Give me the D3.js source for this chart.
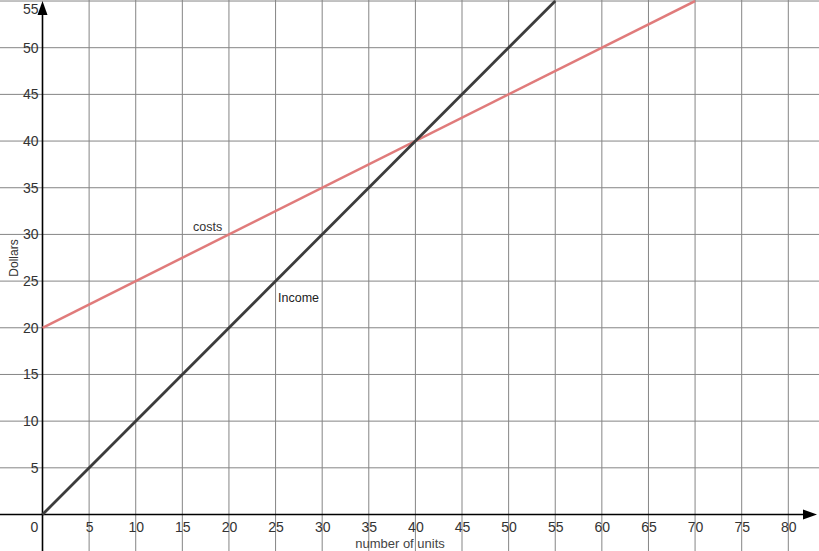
<!DOCTYPE html>
<html>
<head>
<meta charset="utf-8">
<script src="https://cdn.jsdelivr.net/npm/d3@7"></script>
<style>
  body { margin: 0; background: #fff; }
  svg { display: block; font-family: "Liberation Sans", Arial, sans-serif; }
</style>
</head>
<body>
<svg id="chart"></svg>
<script>
// data
var xTicks = [0, 5, 10, 15, 20, 25, 30, 35, 40, 45, 50, 55, 60, 65, 70, 75, 80]
var yTicks = [5, 10, 15, 20, 25, 30, 35, 40, 45, 50, 55]
var costs = [{x: 0, y: 20}, {x: 70, y: 55}]
var income = [{x: 0, y: 0}, {x: 55, y: 55}]

var width = 819, height = 551

var x = d3.scaleLinear()
    .domain([0, 80])
    .range([42.5, 788.3])

var y = d3.scaleLinear()
    .domain([0, 50])
    .range([514.5, 47.7])

var svg = d3.select("#chart")
    .attr("width", width)
    .attr("height", height)

svg.append("defs").append("clipPath").attr("id", "clip")
    .append("rect").attr("x", 0).attr("y", 0).attr("width", width).attr("height", height)

// grid
svg.append("g").selectAll("line")
    .data(xTicks.filter(function(d){ return d > 0 }))
    .enter().append("line")
    .attr("x1", function(d){ return x(d) }).attr("x2", function(d){ return x(d) })
    .attr("y1", 0).attr("y2", height)
    .attr("stroke", "#858585").attr("stroke-width", 1)

svg.append("g").selectAll("line")
    .data(yTicks)
    .enter().append("line")
    .attr("x1", 0).attr("x2", width)
    .attr("y1", function(d){ return y(d) }).attr("y2", function(d){ return y(d) })
    .attr("stroke", "#858585").attr("stroke-width", 1)

// axes
svg.append("line")
    .attr("x1", 0).attr("x2", width - 8)
    .attr("y1", y(0)).attr("y2", y(0))
    .attr("stroke", "#000").attr("stroke-width", 1.6)
svg.append("line")
    .attr("x1", x(0)).attr("x2", x(0))
    .attr("y1", height).attr("y2", 8)
    .attr("stroke", "#000").attr("stroke-width", 1.6)
svg.append("path")
    .attr("d", "M" + (width - 2) + "," + y(0) + "L" + (width - 16) + "," + (y(0) - 5) + "L" + (width - 16) + "," + (y(0) + 5) + "Z")
    .attr("fill", "#000")
svg.append("path")
    .attr("d", "M" + x(0) + ",1L" + (x(0) - 5) + ",15L" + (x(0) + 5) + ",15Z")
    .attr("fill", "#000")

// tick labels (top one is pushed down to stay inside the frame)
svg.append("g").selectAll("text")
    .data(yTicks)
    .enter().append("text")
    .attr("x", 38.5)
    .attr("y", function(d){ return Math.max(y(d) + 5, 13.5) })
    .attr("text-anchor", "end")
    .attr("font-size", "14px")
    .attr("fill", "#333")
    .text(function(d){ return d })

svg.append("g").selectAll("text")
    .data(xTicks)
    .enter().append("text")
    .attr("x", function(d){ return d == 0 ? 34.5 : x(d) + 0.5 })
    .attr("y", 532)
    .attr("text-anchor", "middle")
    .attr("font-size", "14px")
    .attr("fill", "#333")
    .text(function(d){ return d })

// lines
var line = d3.line()
    .x(function(d){ return x(d.x) })
    .y(function(d){ return y(d.y) })

svg.append("path").datum(costs)
    .attr("d", line)
    .attr("clip-path", "url(#clip)")
    .attr("fill", "none")
    .attr("stroke", "#e07b7b")
    .attr("stroke-width", 2.5)

svg.append("path").datum(income)
    .attr("d", line)
    .attr("clip-path", "url(#clip)")
    .attr("fill", "none")
    .attr("stroke", "#3c3c3c")
    .attr("stroke-width", 2.8)

// labels
svg.append("text").attr("x", 193).attr("y", 231)
    .attr("font-size", "12.5px").attr("fill", "#333").text("costs")
svg.append("text").attr("x", 278).attr("y", 302)
    .attr("font-size", "12.5px").attr("fill", "#222").text("Income")
svg.append("text").attr("x", 400).attr("y", 548)
    .attr("text-anchor", "middle")
    .attr("font-size", "13px").attr("fill", "#444").text("number of units")
svg.append("text")
    .attr("transform", "translate(18,258) rotate(-90)")
    .attr("text-anchor", "middle")
    .attr("font-size", "12px").attr("fill", "#333").text("Dollars")
</script>
</body>
</html>
